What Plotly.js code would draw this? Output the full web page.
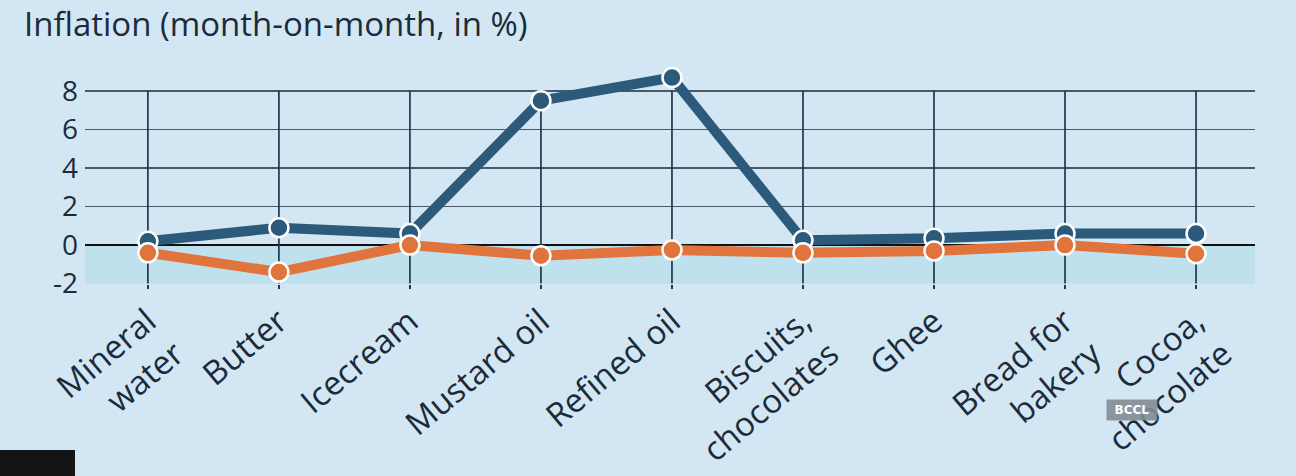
<!DOCTYPE html>
<html>
<head>
<meta charset="utf-8">
<script src="https://cdn.plot.ly/plotly-3.0.1.min.js"></script>
<style>
  html, body { margin:0; padding:0; background:#d2e7f3; }
  #chart { width:1296px; height:476px; position:relative; }
  #blk { position:absolute; left:0; top:450px; width:75px; height:26px; background:#141414; }
</style>
</head>
<body>
<div id="chart"></div>
<div id="blk"></div>
<script>
const categories = ["Mineral<br>water", "Butter", "Icecream", "Mustard oil", "Refined oil",
  "Biscuits,<br>chocolates", "Ghee", "Bread for<br>bakery", "Cocoa,<br>chocolate"];
const seriesBlue = [0.2, 0.9, 0.6, 7.5, 8.7, 0.25, 0.35, 0.6, 0.6];
const seriesOrange = [-0.4, -1.4, 0.0, -0.55, -0.25, -0.4, -0.3, 0.0, -0.45];
const yTicks = [-2, 0, 2, 4, 6, 8];

const FONT = "Open Sans, Noto Sans, sans-serif";
const ink = "#1c2b3a";
const yMin = Math.min(...yTicks), yMax = Math.max(...yTicks);

// vertical category gridlines spanning only the tick range
const gx = [], gy = [];
categories.forEach(c => { gx.push(c, c, c); gy.push(yMin, yMax, null); });

function lineTrace(y, color) {
  return {
    x: categories, y: y, type: "scatter", mode: "lines+markers",
    cliponaxis: false,
    line: { color: color, width: 10 },
    marker: { color: color, size: 19, line: { color: "#ffffff", width: 2.5 } },
    hoverinfo: "skip"
  };
}

const data = [
  { x: gx, y: gy, type: "scatter", mode: "lines", connectgaps: false,
    line: { color: "#22374b", width: 1.7 }, hoverinfo: "skip" },
  lineTrace(seriesBlue, "#2b5a7b"),
  lineTrace(seriesOrange, "#e1743c")
];

const layout = {
  width: 1296, height: 476,
  paper_bgcolor: "#d2e7f3", plot_bgcolor: "rgba(0,0,0,0)",
  margin: { l: 85, r: 41, t: 66, b: 192 },
  showlegend: false,
  font: { family: FONT, color: ink },
  title: {
    text: "Inflation (month-on-month, in %)",
    font: { family: FONT, size: 33, color: ink },
    xref: "container", x: 24/1296, xanchor: "left",
    yref: "container", y: 1 - 24/476, yanchor: "middle"
  },
  xaxis: {
    type: "category", range: [-0.48, 8.45],
    showgrid: false,
    ticks: "outside", ticklen: 4, tickcolor: "#22374b", tickwidth: 1.7,
    tickangle: -40, tickfont: { family: FONT, size: 33, color: ink },
    showline: false, zeroline: false, fixedrange: true
  },
  yaxis: {
    range: [-2.02, 9.3], tickvals: yTicks, ticktext: yTicks.map(String),
    showgrid: true, gridcolor: "#4a5966", gridwidth: 1.6,
    zeroline: true, zerolinecolor: "#111111", zerolinewidth: 2,
    tickfont: { family: FONT, size: 28, color: ink },
    ticklabelstandoff: 6,
    ticks: "", showline: false, fixedrange: true
  },
  shapes: [
    { type: "rect", xref: "paper", yref: "y", x0: 0, x1: 1, y0: -2, y1: 0,
      fillcolor: "rgba(168,218,230,0.45)", line: { width: 0 }, layer: "below" }
  ],
  annotations: [
    { text: "<b>BCCL</b>", xref: "paper", yref: "paper",
      x: (1132-85)/1170, y: (476 - 192 - 410) / 218, xanchor: "center", yanchor: "middle",
      showarrow: false, font: { family: "DejaVu Sans, sans-serif", size: 12, color: "#ffffff" },
      bgcolor: "rgba(130,140,148,0.9)", borderpad: 3, width: 44 }
  ]
};

Plotly.newPlot("chart", data, layout, { displayModeBar: false, staticPlot: true });
</script>
</body>
</html>
